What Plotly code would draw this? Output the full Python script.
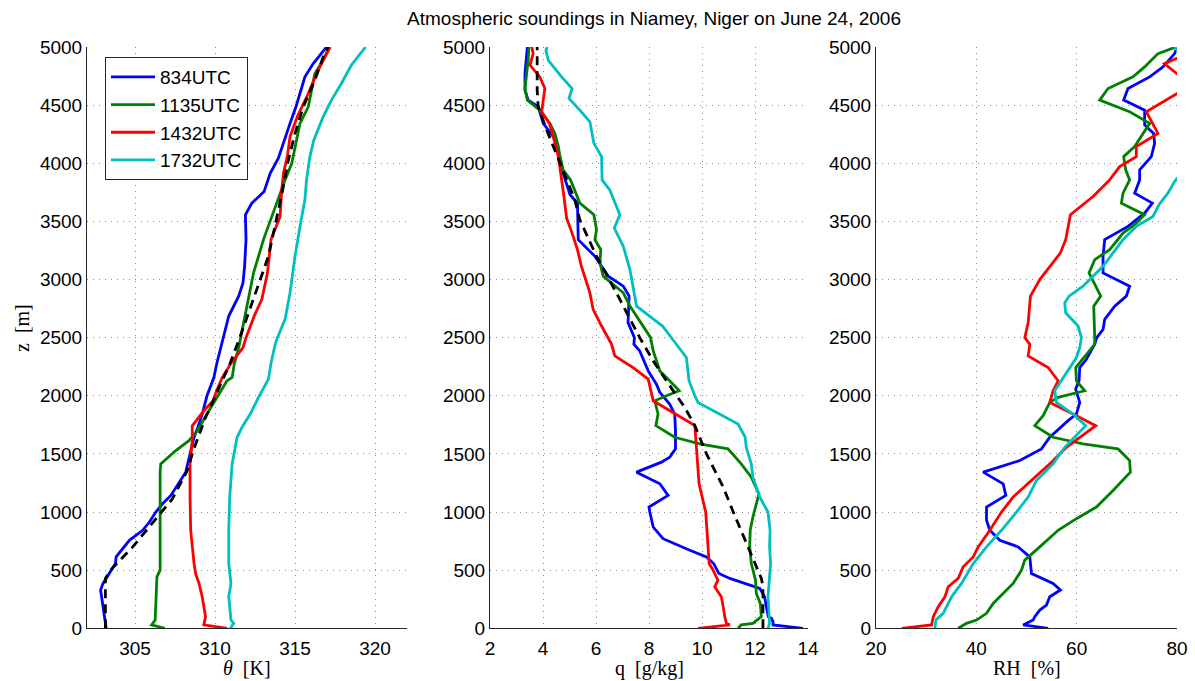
import plotly.graph_objects as go

# ---------------- data ----------------
# Panel 1: potential temperature theta [K] vs height z [m]
z_th_834 = [0, 129, 329, 386, 429, 500, 557, 614, 671, 757, 843, 914, 1000, 1071, 1143, 1243, 1343, 1500,
            1643, 1729, 1843, 2000, 2157, 2271, 2386, 2500, 2686, 2857, 2971, 3114, 3343, 3557, 3657, 3757,
            3914, 4043, 4200, 4343, 4486, 4600, 4743, 4857, 5000]
th_834 = [303.2, 303.05, 302.85, 303.0, 303.2, 303.5, 303.78, 303.82, 304.13, 304.65, 305.48, 305.9, 306.3,
          306.72, 307.24, 307.7, 308.17, 308.44, 308.69, 308.93, 309.2, 309.5, 309.93, 310.1, 310.3, 310.5,
          310.86, 311.48, 311.75, 311.85, 311.94, 311.9, 312.3, 313.07, 313.45, 313.96, 314.32, 314.69,
          315.06, 315.3, 315.62, 316.14, 316.97]

z_th_1135 = [0, 29, 71, 271, 443, 500, 557, 700, 843, 1000, 1129, 1343, 1414, 1443, 1529, 1614, 1700, 1843,
             1986, 2129, 2157, 2271, 2414, 2500, 2771, 3057, 3343, 3543, 3686, 3857, 4000, 4200, 4343, 4486,
             4686, 4771, 4886, 5000]
th_1135 = [306.86, 306.04, 306.26, 306.3, 306.37, 306.57, 306.57, 306.53, 306.57, 306.53, 306.57, 306.57,
           306.61, 306.86, 307.55, 308.37, 308.9, 309.5, 310.1, 310.75, 311.07, 311.2, 311.48, 311.6, 312.0,
           312.41, 313.03, 313.55, 313.96, 314.38, 314.8, 315.1, 315.31, 315.83, 316.14, 316.24, 316.76,
           317.13]

z_th_1432 = [0, 29, 100, 271, 386, 471, 557, 843, 1129, 1414, 1614, 1743, 1800, 1871, 1957, 2043, 2157,
             2271, 2414, 2500, 2686, 2829, 3057, 3343, 3543, 3771, 3914, 4057, 4229, 4400, 4600, 4771, 4886,
             5000]
th_1432 = [310.76, 309.3, 309.41, 309.2, 309.0, 308.79, 308.69, 308.48, 308.44, 308.44, 308.58, 308.58,
           308.9, 309.3, 309.89, 310.1, 310.45, 310.96, 311.75, 311.94, 312.45, 312.93, 313.28, 313.5, 314.07,
           314.17, 314.28, 314.52, 314.69, 315.14, 315.83, 316.35, 316.76, 317.2]

z_th_1732 = [0, 43, 71, 271, 386, 557, 843, 1129, 1414, 1643, 1729, 1843, 1986, 2143, 2271, 2443, 2500,
             2657, 2886, 3200, 3486, 3686, 3857, 4057, 4200, 4400, 4543, 4686, 4843, 5000]
th_1732 = [310.96, 311.17, 311.0, 310.86, 311.0, 310.86, 310.86, 310.92, 311.07, 311.38, 311.69, 312.2,
           312.72, 313.34, 313.49, 313.76, 313.9, 314.38, 314.69, 315.0, 315.35, 315.62, 315.72, 315.93,
           316.18, 316.76, 317.28, 317.9, 318.52, 319.41]

z_th_fit = [0, 429, 500, 700, 957, 1114, 1357, 1529, 1814, 1986, 2271, 2500, 2829, 3200, 3771, 4000, 4257,
            4486, 4714, 4914, 5000]
th_fit = [303.15, 303.15, 303.47, 304.86, 306.4, 307.34, 308.27, 308.64, 309.41, 309.97, 310.92, 311.55,
          312.37, 313.34, 314.23, 314.54, 315.0, 315.52, 316.24, 316.76, 317.07]

# Panel 2: specific humidity q [g/kg]
z_q_834 = [0, 29, 57, 86, 100, 271, 343, 429, 471, 557, 614, 671, 771, 871, 1000, 1043, 1143, 1243, 1343,
           1429, 1471, 1543, 1700, 1843, 1929, 2029, 2100, 2214, 2386, 2443, 2500, 2629, 2857, 2943, 3029,
           3200, 3343, 3657, 3729, 3914, 4057, 4229, 4343, 4486, 4543, 4629, 4771, 5000]
q_834 = [13.81, 12.68, 12.68, 12.62, 12.5, 12.36, 12.18, 11.05, 10.64, 10.44, 10.17, 9.54, 8.53, 8.16, 8.03,
         8.0, 8.72, 8.41, 7.53, 8.47, 8.78, 9.0, 9.0, 8.97, 8.78, 8.41, 8.28, 7.97, 7.65, 7.43, 7.45, 7.21,
         7.25, 7.03, 6.46, 5.96, 5.33, 5.3, 5.02, 4.76, 4.64, 4.39, 4.01, 3.82, 3.44, 3.32, 3.32, 3.41]

z_q_1135 = [0, 29, 43, 100, 214, 300, 414, 500, 557, 700, 843, 957, 1129, 1157, 1300, 1414, 1543, 1586, 1643,
            1743, 1843, 1957, 2000, 2043, 2129, 2214, 2386, 2500, 2771, 2886, 3029, 3143, 3257, 3343, 3429,
            3557, 3657, 3857, 3943, 4057, 4143, 4257, 4343, 4457, 4543, 4643, 4886, 5000]
q_1135 = [11.36, 11.48, 11.92, 12.24, 12.2, 12.05, 12.02, 11.92, 11.86, 11.8, 11.82, 11.92, 12.11, 12.15,
          11.86, 11.48, 10.98, 9.91, 8.97, 8.26, 8.34, 8.22, 8.66, 9.14, 8.78, 8.41, 8.16, 8.06, 7.28, 7.03,
          6.27, 6.15, 6.18, 5.96, 6.02, 5.92, 5.39, 5.04, 4.76, 4.64, 4.58, 4.45, 4.26, 3.88, 3.41, 3.32, 3.44,
          3.47]

z_q_1432 = [0, 29, 43, 100, 186, 271, 357, 414, 500, 557, 700, 1000, 1243, 1557, 1743, 1957, 2043, 2143, 2243,
            2343, 2443, 2500, 2600, 2743, 2886, 3114, 3257, 3371, 3529, 3714, 3914, 4057, 4229, 4343, 4443,
            4643, 4743, 4843, 4943, 5000]
q_1432 = [9.85, 11.05, 10.92, 10.86, 10.8, 10.73, 10.48, 10.6, 10.42, 10.27, 10.23, 10.14, 9.89, 9.79, 9.73,
          8.16, 8.06, 7.97, 7.4, 6.71, 6.59, 6.45, 6.21, 5.89, 5.77, 5.45, 5.3, 5.14, 4.89, 4.79, 4.66, 4.58,
          4.39, 4.24, 3.95, 4.07, 3.88, 3.51, 3.63, 3.58]

z_q_1732 = [0, 43, 271, 557, 700, 843, 1000, 1129, 1300, 1414, 1557, 1643, 1757, 1871, 1943, 2000, 2129, 2329,
            2443, 2500, 2600, 2771, 2943, 3086, 3286, 3443, 3557, 3771, 3857, 4057, 4171, 4357, 4457, 4557,
            4643, 4743, 4886, 4971, 5000]
q_1732 = [12.49, 12.55, 12.49, 12.59, 12.55, 12.57, 12.49, 12.18, 11.92, 11.86, 11.67, 11.63, 11.36, 10.42,
          9.85, 9.73, 9.51, 9.41, 9.04, 8.82, 8.51, 7.53, 7.4, 7.28, 7.03, 6.69, 6.9, 6.52, 6.23, 6.21, 5.92,
          5.77, 5.39, 4.98, 5.1, 4.7, 4.2, 4.11, 4.16]

z_q_fit = [0, 357, 429, 557, 729, 1000, 1214, 1357, 1500, 1743, 1900, 2000, 2129, 2300, 2500, 2829, 3200,
           3514, 3686, 4000, 4286, 4486, 4629, 5000]
q_fit = [12.3, 12.3, 12.24, 12.0, 11.68, 11.18, 10.8, 10.48, 10.17, 9.73, 9.35, 9.04, 8.66, 8.16, 7.65, 6.9,
         6.02, 5.39, 5.2, 4.64, 4.14, 3.82, 3.78, 3.78]

# Panel 3: relative humidity RH [%]
z_rh_834 = [0, 29, 71, 100, 157, 200, 271, 329, 386, 471, 614, 700, 757, 843, 929, 1043, 1143, 1243, 1343,
            1443, 1543, 1643, 1786, 1843, 1943, 2000, 2057, 2129, 2243, 2314, 2386, 2443, 2500, 2571, 2657,
            2771, 2857, 2943, 3057, 3200, 3343, 3457, 3571, 3657, 3743, 3857, 3943, 4057, 4171, 4257, 4329,
            4457, 4543, 4643, 4743, 4829, 4943, 5000]
rh_834 = [54.31, 49.33, 51.32, 51.65, 52.65, 53.98, 54.64, 56.76, 55.3, 50.99, 50.66, 48.34, 44.68, 42.69,
          42.03, 42.03, 45.88, 45.35, 41.37, 48.67, 52.98, 54.64, 58.29, 59.95, 60.61, 60.28, 59.8, 60.48,
          60.61, 61.94, 62.93, 63.6, 64.0, 65.26, 65.59, 67.58, 69.9, 70.56, 65.26, 65.26, 65.59, 70.23, 73.55,
          75.08, 71.56, 72.56, 72.56, 74.88, 75.54, 75.34, 73.55, 73.55, 69.37, 70.23, 74.55, 77.2, 79.52, 80.0]

z_rh_1135 = [0, 43, 71, 129, 214, 271, 386, 500, 586, 700, 843, 943, 1043, 1186, 1343, 1443, 1543, 1586, 1643,
             1743, 1829, 1943, 1986, 2043, 2129, 2243, 2386, 2443, 2500, 2771, 2857, 3057, 3171, 3257, 3400,
             3471, 3557, 3657, 3743, 3857, 3943, 4057, 4143, 4229, 4343, 4443, 4543, 4643, 4743, 4829, 4943,
             5000]
rh_1135 = [36.39, 38.05, 40.04, 42.03, 43.36, 44.68, 47.34, 49.0, 49.66, 52.65, 56.3, 59.95, 63.93, 67.25,
           70.7, 70.56, 68.24, 61.27, 55.3, 51.65, 53.31, 54.64, 56.3, 61.61, 59.95, 59.82, 62.6, 63.6, 63.6,
           63.4, 64.79, 62.47, 63.6, 66.58, 69.24, 71.56, 73.55, 68.91, 69.24, 70.56, 69.77, 69.37, 71.56,
           72.89, 74.55, 70.56, 64.59, 66.25, 71.23, 73.55, 76.2, 79.8]

z_rh_1432 = [0, 29, 100, 186, 271, 357, 429, 529, 614, 700, 843, 1000, 1129, 1257, 1414, 1557, 1643, 1743,
             1843, 1943, 2043, 2129, 2243, 2343, 2443, 2500, 2629, 2857, 3000, 3114, 3229, 3343, 3557, 3714,
             3857, 3971, 4057, 4143, 4257, 4443, 4600, 4643, 4700, 4857, 4940, 5000]
rh_1432 = [25.11, 31.08, 31.41, 32.41, 33.74, 34.4, 36.39, 37.39, 39.38, 40.37, 42.69, 45.02, 47.34, 50.66,
           54.64, 57.96, 60.61, 63.8, 59.28, 54.64, 55.3, 56.3, 54.31, 50.33, 50.66, 49.66, 50.33, 50.79,
           52.65, 54.64, 56.76, 57.82, 58.75, 63.27, 66.58, 68.57, 71.89, 71.89, 76.2, 73.88, 80.0, 84.0, 82.0,
           77.5, 82.0, 84.0]

z_rh_1732 = [0, 71, 129, 271, 386, 557, 700, 843, 1000, 1129, 1271, 1414, 1557, 1671, 1743, 1843, 1943, 2043,
             2129, 2243, 2329, 2414, 2500, 2600, 2714, 2800, 2857, 2943, 3029, 3114, 3229, 3343, 3457, 3543,
             3643, 3743, 3829, 3871, 3950, 4300, 4700, 4950, 4990, 5000]
rh_1732 = [31.75, 31.94, 33.4, 35.06, 37.05, 39.38, 42.03, 45.02, 48.0, 50.33, 51.98, 55.3, 57.62, 60.28,
           61.8, 59.28, 55.97, 55.63, 56.96, 58.62, 59.95, 60.61, 60.94, 60.28, 57.82, 57.62, 58.49, 61.27,
           63.27, 65.26, 67.25, 69.24, 71.89, 75.21, 76.4, 78.19, 79.32, 80.0, 83.0, 86.0, 84.0, 80.3, 79.7,
           80.2]

series_names = ["834UTC", "1135UTC", "1432UTC", "1732UTC"]
series_colors = ["#0000FF", "#008000", "#FF0000", "#00BFBF"]

title_text = "Atmospheric soundings in Niamey, Niger on June 24, 2006"

# ---------------- figure ----------------
W, H = 1195, 681
fig = go.Figure()

panels = [
    ("x", "y", [(th_834, z_th_834), (th_1135, z_th_1135), (th_1432, z_th_1432), (th_1732, z_th_1732)],
     (th_fit, z_th_fit)),
    ("x2", "y2", [(q_834, z_q_834), (q_1135, z_q_1135), (q_1432, z_q_1432), (q_1732, z_q_1732)],
     (q_fit, z_q_fit)),
    ("x3", "y3", [(rh_834, z_rh_834), (rh_1135, z_rh_1135), (rh_1432, z_rh_1432), (rh_1732, z_rh_1732)],
     None),
]

for pi, (xa, ya, curves, fit) in enumerate(panels):
    for si, (xs, zs) in enumerate(curves):
        fig.add_trace(go.Scatter(
            x=xs, y=zs, xaxis=xa, yaxis=ya, mode="lines",
            line=dict(color=series_colors[si], width=2.8),
            name=series_names[si], showlegend=(pi == 0), hoverinfo="skip"))
    if fit is not None:
        fig.add_trace(go.Scatter(
            x=fit[0], y=fit[1], xaxis=xa, yaxis=ya, mode="lines",
            line=dict(color="black", width=2.8, dash="9px,6px"),
            showlegend=False, hoverinfo="skip"))

tickfont = dict(family="Liberation Sans, Arial, sans-serif", size=19, color="black")
common_axis = dict(showline=True, linecolor="#262626", linewidth=1, mirror=False,
                   showgrid=True, gridcolor="#8c8c8c", gridwidth=1, griddash="1px,5px",
                   zeroline=False, ticks="", tickfont=tickfont, automargin=False)

ydom = [1 - 628.3 / H, 1 - 47 / H]
xdoms = [[87 / W, 407 / W], [490 / W, 808 / W], [876 / W, 1177 / W]]
xranges = [[302, 322], [2, 14], [20, 80]]
xticks = [[305, 310, 315, 320], [2, 4, 6, 8, 10, 12, 14], [20, 40, 60, 80]]

layout_axes = {}
for i in range(3):
    sx = "" if i == 0 else str(i + 1)
    layout_axes["xaxis" + sx] = dict(common_axis, domain=xdoms[i], range=xranges[i],
                                     tickvals=xticks[i], anchor="y" + sx, ticklabelstandoff=3)
    layout_axes["yaxis" + sx] = dict(common_axis, domain=ydom, range=[0, 5000],
                                     tickvals=list(range(0, 5001, 500)), tickformat="d", anchor="x" + sx)

serif = "Liberation Serif, Times New Roman, serif"
label_font = dict(family=serif, size=20, color="black")
nb = "\u00a0"
annotations = [
    dict(text="<i>θ</i>" + nb * 2 + "[K]", x=247 / W, y=1 - 668 / H),
    dict(text="q" + nb * 2 + "[g/kg]", x=649 / W, y=1 - 668 / H),
    dict(text="RH" + nb * 2 + "[%]", x=1026.5 / W, y=1 - 668 / H),
    dict(text="z" + nb * 2 + "[m]", x=22 / W, y=1 - 328 / H, textangle=-90),
]
for a in annotations:
    a.update(xref="paper", yref="paper", showarrow=False, xanchor="center", yanchor="middle",
             font=label_font)

fig.update_layout(
    width=W, height=H,
    template="none",
    paper_bgcolor="white", plot_bgcolor="white",
    margin=dict(l=0, r=0, t=0, b=0, pad=0),
    title=dict(text=title_text, x=654 / W, y=1 - 18 / H, xref="paper", yref="container",
               xanchor="center", yanchor="middle",
               font=dict(family="Liberation Sans, Arial, sans-serif", size=19, color="black")),
    legend=dict(x=105 / W, y=1 - 57 / H, xanchor="left", yanchor="top",
                bgcolor="white", bordercolor="#262626", borderwidth=1,
                font=dict(family="Liberation Sans, Arial, sans-serif", size=19, color="black"),
                itemwidth=44, tracegroupgap=0),
    annotations=annotations,
    showlegend=True,
    **layout_axes,
)

fig.write_html("out.html")
